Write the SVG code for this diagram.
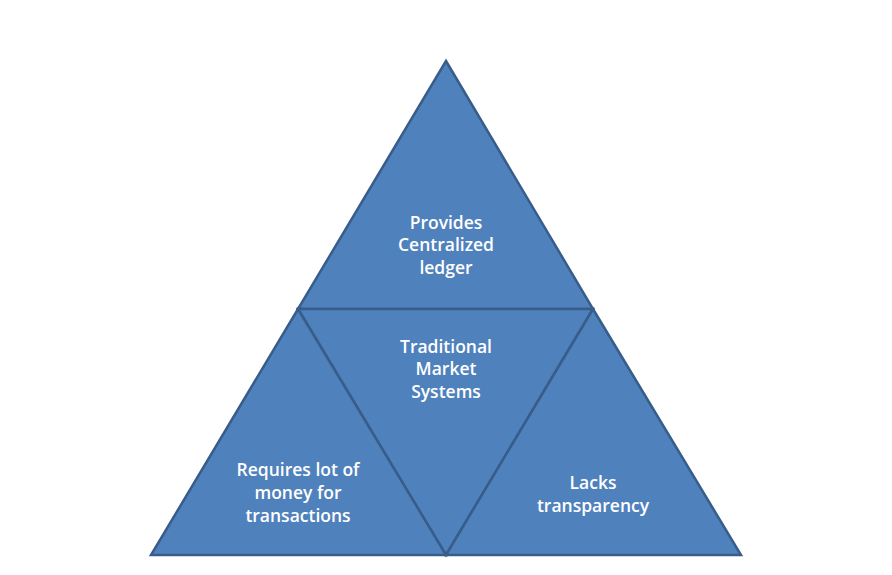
<svg xmlns="http://www.w3.org/2000/svg" width="892" height="575" viewBox="0 0 892 575">
<style>
.tri{fill:#4F81BD;stroke:#385D8A;stroke-width:2.5;stroke-linejoin:miter}
.lbl{font-family:"Open Sans","Noto Sans",sans-serif;font-weight:600;font-size:17.5px;fill:#FFFFFF;text-anchor:middle}
</style>
<rect width="892" height="575" fill="#FFFFFF"/>
<g id="top">
<polygon class="tri" points="446,61 593,309 298,309"/>
<text class="lbl" x="446" y="229">Provides</text>
<text class="lbl" x="446" y="251">Centralized</text>
<text class="lbl" x="446" y="274">ledger</text>
</g>
<g id="center">
<polygon class="tri" points="298,309 593,309 446,555"/>
<text class="lbl" x="446" y="353">Traditional</text>
<text class="lbl" x="446" y="375">Market</text>
<text class="lbl" x="446" y="398">Systems</text>
</g>
<g id="left">
<polygon class="tri" points="298,309 446,555 151,555"/>
<text class="lbl" x="298" y="476">Requires lot of</text>
<text class="lbl" x="298" y="499">money for</text>
<text class="lbl" x="298" y="522">transactions</text>
</g>
<g id="right">
<polygon class="tri" points="593,309 741,555 446,555"/>
<text class="lbl" x="593" y="489">Lacks</text>
<text class="lbl" x="593" y="512">transparency</text>
</g>
<g id="connectors"></g>
</svg>
